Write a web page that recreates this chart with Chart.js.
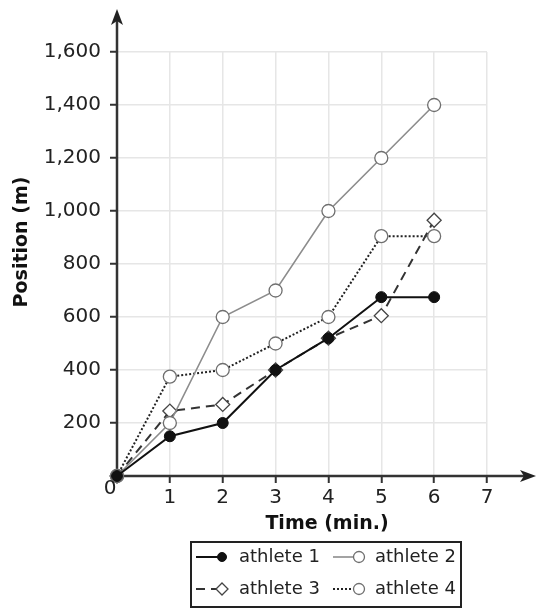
<!DOCTYPE html>
<html><head><meta charset="utf-8">
<script src="https://cdn.jsdelivr.net/npm/chart.js@4/dist/chart.umd.min.js"></script>
<style>html,body{margin:0;padding:0;background:#fff;}#wrap{width:551px;height:613px;}</style>
</head><body><div id="wrap"><canvas id="c" width="551" height="613"></canvas></div>
<script>
// ---- data ----
const times = [0, 1, 2, 3, 4, 5, 6];
const xTickValues = [0, 1, 2, 3, 4, 5, 6, 7];
const yTickValues = [0, 200, 400, 600, 800, 1000, 1200, 1400, 1600];
const athlete1 = [0, 150, 200, 400, 520, 675, 675];
const athlete2 = [0, 200, 600, 700, 1000, 1200, 1400];
const athlete3 = [0, 245, 270, 400, 520, 605, 965];
const athlete4 = [0, 375, 400, 500, 600, 905, 905];
const seriesNames = ['athlete 1', 'athlete 2', 'athlete 3', 'athlete 4'];
const xTitle = 'Time (min.)';
const yTitle = 'Position (m)';

const FONT = '"DejaVu Sans", Verdana, sans-serif';
const toPts = arr => times.map((t, i) => ({x: t, y: arr[i]}));

const styles = [
  {borderColor:'#111', borderWidth:2, borderDash:[], pointStyle:'circle', pointRadius:5.5, pointBackgroundColor:'#111', pointBorderColor:'#111', pointBorderWidth:1},
  {borderColor:'#8c8c8c', borderWidth:1.6, borderDash:[], pointStyle:'circle', pointRadius:6.5, pointBackgroundColor:'#fff', pointBorderColor:'#6f6f6f', pointBorderWidth:1.3},
  {borderColor:'#333', borderWidth:2, borderDash:[9,6], pointStyle:'rectRot', pointRadius:7, pointBackgroundColor:'#fff', pointBorderColor:'#444', pointBorderWidth:1.3},
  {borderColor:'#222', borderWidth:2, borderDash:[2,2], pointStyle:'circle', pointRadius:6.5, pointBackgroundColor:'#fff', pointBorderColor:'#6f6f6f', pointBorderWidth:1.3}
];
const series = [athlete1, athlete2, athlete3, athlete4];

const datasets = series.map((arr, i) => Object.assign({
  label: seriesNames[i], data: toPts(arr), tension: 0, fill: false, clip: false
}, styles[i]));

function drawMarker(ctx, ds, x, y, r) {
  ctx.save();
  ctx.setLineDash([]);
  ctx.fillStyle = ds.pointBackgroundColor;
  ctx.strokeStyle = ds.pointBorderColor;
  ctx.lineWidth = ds.pointBorderWidth;
  ctx.beginPath();
  if (ds.pointStyle === 'rectRot') {
    ctx.moveTo(x, y - r); ctx.lineTo(x + r, y); ctx.lineTo(x, y + r); ctx.lineTo(x - r, y); ctx.closePath();
  } else {
    ctx.arc(x, y, r, 0, Math.PI * 2);
  }
  ctx.fill(); ctx.stroke();
  ctx.restore();
}

const axesPlugin = {
  id: 'axesArrows',
  beforeDatasetsDraw(chart) {
    const ctx = chart.ctx, xs = chart.scales.x, ys = chart.scales.y;
    const ox = xs.getPixelForValue(0), oy = ys.getPixelForValue(0);
    ctx.save();
    ctx.strokeStyle = '#333'; ctx.fillStyle = '#222'; ctx.lineWidth = 2.5;
    // y axis
    ctx.beginPath(); ctx.moveTo(ox, oy); ctx.lineTo(ox, 20); ctx.stroke();
    ctx.beginPath(); ctx.moveTo(ox, 9); ctx.lineTo(ox - 6, 25); ctx.lineTo(ox, 21); ctx.lineTo(ox + 6, 25); ctx.closePath(); ctx.fill();
    // x axis
    ctx.beginPath(); ctx.moveTo(ox, oy); ctx.lineTo(526, oy); ctx.stroke();
    ctx.beginPath(); ctx.moveTo(536, oy); ctx.lineTo(520, oy - 6); ctx.lineTo(524, oy); ctx.lineTo(520, oy + 6); ctx.closePath(); ctx.fill();
    ctx.restore();
  },
  afterDraw(chart) {
    const ctx = chart.ctx, xs = chart.scales.x, ys = chart.scales.y;
    const ox = xs.getPixelForValue(0), oy = ys.getPixelForValue(0);
    ctx.save();
    ctx.font = '20px ' + FONT; ctx.fillStyle = '#222';
    ctx.textAlign = 'center'; ctx.textBaseline = 'middle';
    ctx.fillText(String(xTickValues[0]), ox - 7, oy + 13);
    // axis titles
    ctx.font = 'bold 19px ' + FONT; ctx.fillStyle = '#111';
    ctx.fillText(xTitle, 327, 524);
    ctx.save();
    ctx.translate(22, 242); ctx.rotate(-Math.PI / 2);
    ctx.fillText(yTitle, 0, 0);
    ctx.restore();
    // legend
    const L = {x: 191, y: 542, w: 270, h: 65};
    ctx.strokeStyle = '#222'; ctx.lineWidth = 2;
    ctx.strokeRect(L.x, L.y, L.w, L.h);
    const pos = [[196, 557], [333, 557], [196, 589], [333, 589]];
    const textX = [239, 375, 239, 375];
    chart.data.datasets.forEach((ds, i) => {
      const [sx, sy] = pos[i];
      const mx = sx + 26;
      ctx.save();
      ctx.strokeStyle = ds.borderColor; ctx.lineWidth = ds.borderWidth;
      ctx.setLineDash(ds.borderDash || []);
      ctx.beginPath(); ctx.moveTo(sx, sy); ctx.lineTo(mx, sy); ctx.stroke();
      ctx.restore();
      drawMarker(ctx, ds, mx, sy, ds.pointStyle === 'rectRot' ? 6 : (i === 0 ? 4.5 : 5.5));
      ctx.font = '18px ' + FONT; ctx.fillStyle = '#222';
      ctx.textAlign = 'left'; ctx.textBaseline = 'middle';
      ctx.fillText(ds.label, textX[i], sy);
    });
    ctx.restore();
  }
};

const gridColor = c => (c.tick && c.tick.value === 0) ? 'rgba(0,0,0,0)' : '#e6e6e6';
const tickColor = c => (c.tick && c.tick.value === 0) ? 'rgba(0,0,0,0)' : '#333';

new Chart(document.getElementById('c'), {
  type: 'line',
  data: {datasets},
  plugins: [axesPlugin],
  options: {
    responsive: false,
    animation: false,
    devicePixelRatio: 1,
    events: [],
    layout: {padding: {left: 0, right: 64, top: 52, bottom: 77}},
    plugins: {legend: {display: false}, tooltip: {enabled: false}},
    scales: {
      x: {
        type: 'linear', min: xTickValues[0], max: xTickValues[xTickValues.length - 1],
        afterBuildTicks: s => { s.ticks = xTickValues.map(v => ({value: v})); },
        afterFit: s => { s.height = 60; },
        border: {display: false},
        grid: {color: gridColor, lineWidth: 1.5, drawTicks: true, tickLength: 7, tickColor: tickColor, tickWidth: 2},
        ticks: {padding: 3, color: '#222', font: {family: FONT, size: 20}, maxRotation: 0,
          callback: v => v === 0 ? '' : String(v)},
        title: {display: false}
      },
      y: {
        type: 'linear', min: yTickValues[0], max: yTickValues[yTickValues.length - 1],
        afterBuildTicks: s => { s.ticks = yTickValues.map(v => ({value: v})); },
        afterFit: s => { s.width = 117; },
        border: {display: false},
        grid: {color: gridColor, lineWidth: 1.5, drawTicks: true, tickLength: 7, tickColor: tickColor, tickWidth: 2},
        ticks: {padding: 9, color: '#222', font: {family: FONT, size: 20},
          callback: v => v === 0 ? '' : v.toLocaleString('en-US')},
        title: {display: false}
      }
    }
  }
});
</script>
</body></html>
